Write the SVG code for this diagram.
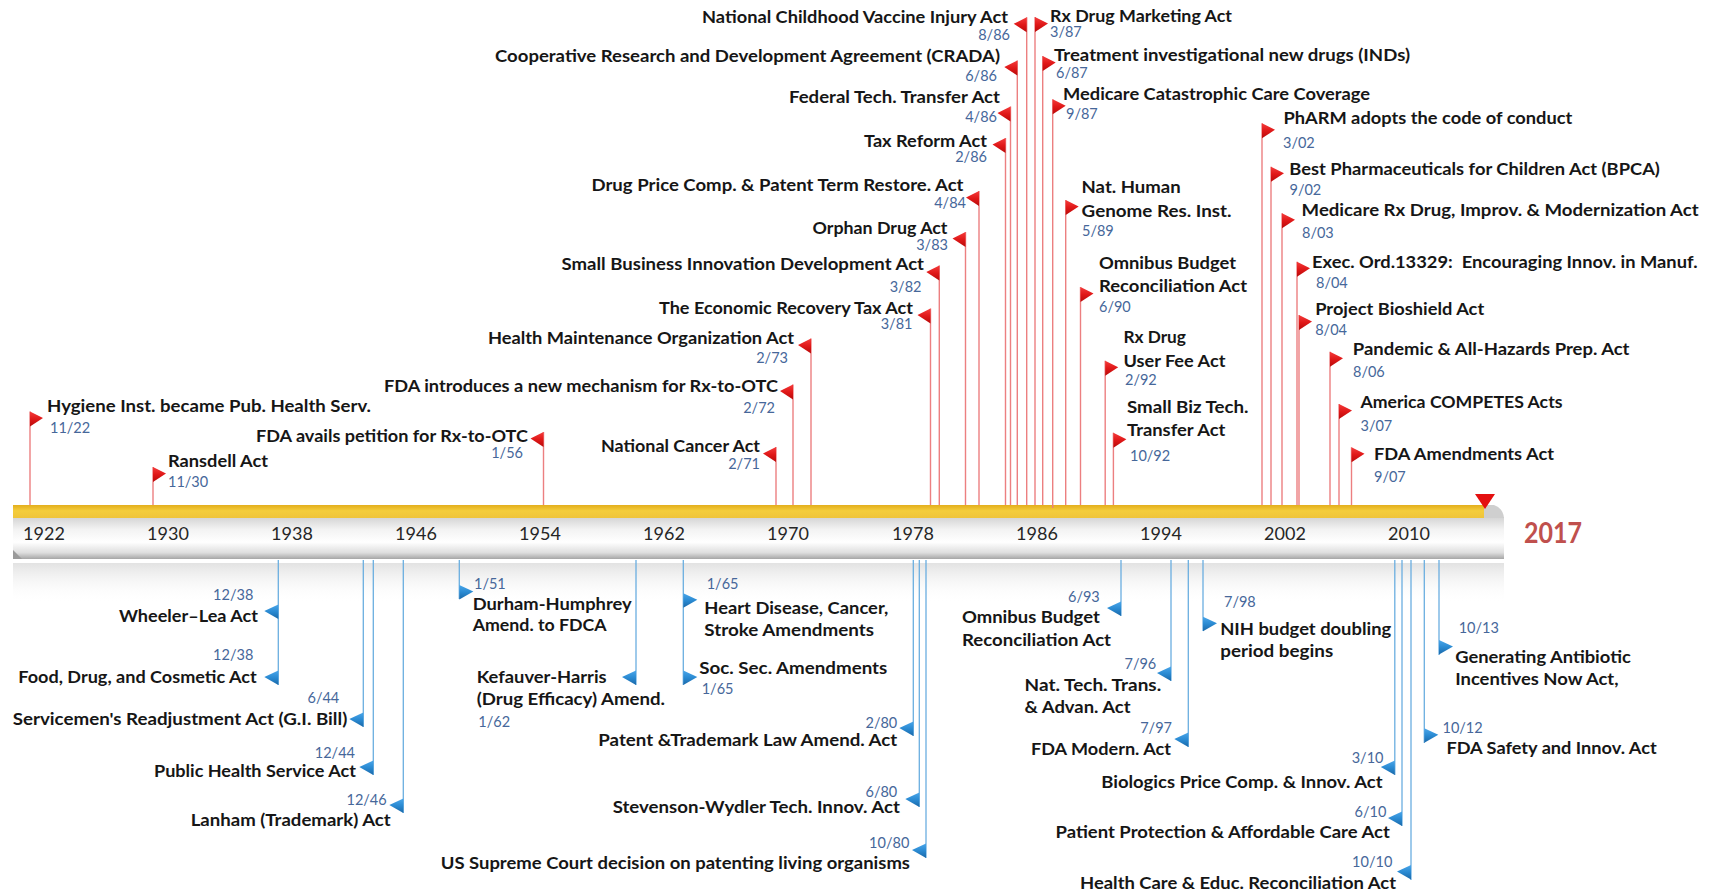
<svg xmlns="http://www.w3.org/2000/svg" xmlns:xlink="http://www.w3.org/1999/xlink" width="1711" height="893" viewBox="0 0 1711 893">
<defs>
<style>
.l{font-family:Lato,"Liberation Sans",sans-serif;font-weight:700;font-size:17px;fill:#161616}
.d{font-family:Lato,"Liberation Sans",sans-serif;font-weight:400;font-size:14.5px;fill:#46679a}
.e{text-anchor:end}
.y{font-family:Lato,"Liberation Sans",sans-serif;font-weight:400;font-size:18px;fill:#262626;text-anchor:middle}
.pr{stroke:#ec7f80;stroke-width:1.4;fill:none}
.pb{stroke:#6aaee0;stroke-width:1.3;fill:none}
</style>
<linearGradient id="gr" x1="0" y1="0" x2="0" y2="1"><stop offset="0" stop-color="#f43c3c"/><stop offset="0.5" stop-color="#e01818"/><stop offset="1" stop-color="#b80a0a"/></linearGradient>
<linearGradient id="gb" x1="0" y1="0" x2="0" y2="1"><stop offset="0" stop-color="#4aa6ea"/><stop offset="0.5" stop-color="#2a8ad2"/><stop offset="1" stop-color="#1a68a8"/></linearGradient>
<linearGradient id="gy" x1="0" y1="0" x2="0" y2="1"><stop offset="0" stop-color="#e3ae1c"/><stop offset="0.45" stop-color="#f4cd3c"/><stop offset="1" stop-color="#efc43a"/></linearGradient>
<linearGradient id="gg" x1="0" y1="0" x2="0" y2="1"><stop offset="0" stop-color="#d4d4d4"/><stop offset="0.3" stop-color="#f3f3f3"/><stop offset="0.6" stop-color="#ffffff"/><stop offset="0.85" stop-color="#dedede"/><stop offset="1" stop-color="#a6a6a6"/></linearGradient>
<linearGradient id="gf" x1="0" y1="0" x2="0" y2="1"><stop offset="0" stop-color="#e2e2e2"/><stop offset="1" stop-color="#ffffff" stop-opacity="0"/></linearGradient>
<path id="fR" d="M0,0 L13,6.5 L0,15 Z" fill="url(#gr)"/>
<path id="fL" d="M0,0 L-13,6.5 L0,15 Z" fill="url(#gr)"/>
<path id="bR" d="M0,0 L14,6.5 L0,14.5 Z" fill="url(#gb)"/>
<path id="bL" d="M0,0 L-14,6.5 L0,14.5 Z" fill="url(#gb)"/>
</defs>
<rect width="1711" height="893" fill="#ffffff"/>

<g id="timeline-bar">
<rect x="13" y="563" width="1491" height="40" fill="url(#gf)"/>
<rect x="13" y="517" width="1491" height="42" fill="url(#gg)"/>
<rect x="13" y="505" width="1471" height="13" fill="url(#gy)"/>
<path d="M1484,505 L1494,505 Q1503,508 1504,518 L1484,518 Z" fill="#cfcfcf"/>
<path d="M13,550 L22,559 L13,559 Z" fill="#9a9a9a"/>
<path d="M1475,494 L1495,494 L1485,509 Z" fill="#e41010"/>
<text class="y" x="44" y="540">1922</text>
<text class="y" x="168" y="540">1930</text>
<text class="y" x="292" y="540">1938</text>
<text class="y" x="416" y="540">1946</text>
<text class="y" x="540" y="540">1954</text>
<text class="y" x="664" y="540">1962</text>
<text class="y" x="788" y="540">1970</text>
<text class="y" x="913" y="540">1978</text>
<text class="y" x="1037" y="540">1986</text>
<text class="y" x="1161" y="540">1994</text>
<text class="y" x="1285" y="540">2002</text>
<text class="y" x="1409" y="540">2010</text>
<text x="1524" y="543" textLength="58" lengthAdjust="spacingAndGlyphs" style="font-family:Lato,'Liberation Sans',sans-serif;font-weight:700;font-size:28px;fill:#c0504d">2017</text>
</g>

<g id="connectors">
<line class="pr" x1="30" y1="411.5" x2="30" y2="505"/>
<line class="pr" x1="153" y1="467" x2="153" y2="505"/>
<line class="pr" x1="543.5" y1="432" x2="543.5" y2="505"/>
<line class="pr" x1="776" y1="447" x2="776" y2="505"/>
<line class="pr" x1="793" y1="384.5" x2="793" y2="505"/>
<line class="pr" x1="811" y1="338.5" x2="811" y2="505"/>
<line class="pr" x1="930.5" y1="308.5" x2="930.5" y2="505"/>
<line class="pr" x1="939.3" y1="265.5" x2="939.3" y2="505"/>
<line class="pr" x1="965.5" y1="232" x2="965.5" y2="505"/>
<line class="pr" x1="979" y1="191" x2="979" y2="505"/>
<line class="pr" x1="1005.5" y1="138" x2="1005.5" y2="505"/>
<line class="pr" x1="1010.5" y1="106.5" x2="1010.5" y2="505"/>
<line class="pr" x1="1017.3" y1="60.5" x2="1017.3" y2="505"/>
<line class="pr" x1="1026.7" y1="17.3" x2="1026.7" y2="505"/>
<line class="pr" x1="1035" y1="17" x2="1035" y2="505"/>
<line class="pr" x1="1042.7" y1="56" x2="1042.7" y2="505"/>
<line class="pr" x1="1052.7" y1="99.3" x2="1052.7" y2="508"/>
<line class="pr" x1="1065.7" y1="200" x2="1065.7" y2="505"/>
<line class="pr" x1="1080.5" y1="287" x2="1080.5" y2="505"/>
<line class="pr" x1="1105.2" y1="360.7" x2="1105.2" y2="505"/>
<line class="pr" x1="1113.4" y1="432.7" x2="1113.4" y2="505"/>
<line class="pr" x1="1262" y1="123.3" x2="1262" y2="505"/>
<line class="pr" x1="1271" y1="166.7" x2="1271" y2="505"/>
<line class="pr" x1="1282" y1="213.3" x2="1282" y2="505"/>
<line class="pr" x1="1297" y1="261.7" x2="1297" y2="505"/>
<line class="pr" x1="1299" y1="315" x2="1299" y2="505"/>
<line class="pr" x1="1330" y1="351.7" x2="1330" y2="505"/>
<line class="pr" x1="1339" y1="404" x2="1339" y2="505"/>
<line class="pr" x1="1351.5" y1="447.3" x2="1351.5" y2="505"/>
<line class="pb" x1="278.3" y1="560" x2="278.3" y2="685"/>
<line class="pb" x1="363.3" y1="560" x2="363.3" y2="727"/>
<line class="pb" x1="373.3" y1="560" x2="373.3" y2="775"/>
<line class="pb" x1="403.3" y1="560" x2="403.3" y2="813"/>
<line class="pb" x1="459.3" y1="560" x2="459.3" y2="599"/>
<line class="pb" x1="636" y1="560" x2="636" y2="685"/>
<line class="pb" x1="683.3" y1="560" x2="683.3" y2="685"/>
<line class="pb" x1="913.3" y1="560" x2="913.3" y2="736"/>
<line class="pb" x1="919.3" y1="560" x2="919.3" y2="807"/>
<line class="pb" x1="926" y1="560" x2="926" y2="858"/>
<line class="pb" x1="1121" y1="560" x2="1121" y2="616"/>
<line class="pb" x1="1171" y1="560" x2="1171" y2="681"/>
<line class="pb" x1="1188.3" y1="560" x2="1188.3" y2="747"/>
<line class="pb" x1="1203" y1="560" x2="1203" y2="631"/>
<line class="pb" x1="1394.8" y1="560" x2="1394.8" y2="775"/>
<line class="pb" x1="1402" y1="560" x2="1402" y2="826"/>
<line class="pb" x1="1411" y1="560" x2="1411" y2="880"/>
<line class="pb" x1="1424.3" y1="560" x2="1424.3" y2="743"/>
<line class="pb" x1="1439" y1="560" x2="1439" y2="655"/>
</g>

<g id="t01"><use xlink:href="#fR" x="30" y="411.5"/><text class="l" x="47" y="412" textLength="324" lengthAdjust="spacingAndGlyphs">Hygiene Inst. became Pub. Health Serv.</text><text class="d" x="50" y="433">11/22</text></g>
<g id="t02"><use xlink:href="#fR" x="153" y="467"/><text class="l" x="168" y="466.5" textLength="100" lengthAdjust="spacingAndGlyphs">Ransdell Act</text><text class="d" x="168" y="487">11/30</text></g>
<g id="t03"><use xlink:href="#fL" x="543.5" y="432"/><text class="l" x="256" y="442" textLength="272" lengthAdjust="spacingAndGlyphs">FDA avails petition for Rx-to-OTC</text><text class="d e" x="523" y="458">1/56</text></g>
<g id="t04"><use xlink:href="#fL" x="776" y="447"/><text class="l" x="601" y="452" textLength="159" lengthAdjust="spacingAndGlyphs">National Cancer Act</text><text class="d e" x="760" y="469">2/71</text></g>
<g id="t05"><use xlink:href="#fL" x="793" y="384.5"/><text class="l" x="384" y="392" textLength="394" lengthAdjust="spacingAndGlyphs">FDA introduces a new mechanism for Rx-to-OTC</text><text class="d e" x="775" y="413">2/72</text></g>
<g id="t06"><use xlink:href="#fL" x="811" y="338.5"/><text class="l" x="488" y="343.5" textLength="306" lengthAdjust="spacingAndGlyphs">Health Maintenance Organization Act</text><text class="d e" x="788" y="362.5">2/73</text></g>
<g id="t07"><use xlink:href="#fL" x="930.5" y="308.5"/><text class="l" x="659" y="314" textLength="254" lengthAdjust="spacingAndGlyphs">The Economic Recovery Tax Act</text><text class="d e" x="912.5" y="329">3/81</text></g>
<g id="t08"><use xlink:href="#fL" x="939.3" y="265.5"/><text class="l" x="561.5" y="270" textLength="362.5" lengthAdjust="spacingAndGlyphs">Small Business Innovation Development Act</text><text class="d e" x="921.5" y="291.5">3/82</text></g>
<g id="t09"><use xlink:href="#fL" x="965.5" y="232"/><text class="l" x="812.5" y="234" textLength="135" lengthAdjust="spacingAndGlyphs">Orphan Drug Act</text><text class="d e" x="948" y="249.5">3/83</text></g>
<g id="t10"><use xlink:href="#fL" x="979" y="191"/><text class="l" x="591.5" y="191" textLength="372" lengthAdjust="spacingAndGlyphs">Drug Price Comp. &amp; Patent Term Restore. Act</text><text class="d e" x="966" y="208">4/84</text></g>
<g id="t11"><use xlink:href="#fL" x="1005.5" y="138"/><text class="l" x="864" y="146.5" textLength="123" lengthAdjust="spacingAndGlyphs">Tax Reform Act</text><text class="d e" x="987" y="161.5">2/86</text></g>
<g id="t12"><use xlink:href="#fL" x="1010.5" y="106.5"/><text class="l" x="789" y="103.3" textLength="211" lengthAdjust="spacingAndGlyphs">Federal Tech. Transfer Act</text><text class="d e" x="997" y="121.5">4/86</text></g>
<g id="t13"><use xlink:href="#fL" x="1017.3" y="60.5"/><text class="l" x="495" y="62" textLength="505" lengthAdjust="spacingAndGlyphs">Cooperative Research and Development Agreement (CRADA)</text><text class="d e" x="997" y="81">6/86</text></g>
<g id="t14"><use xlink:href="#fL" x="1026.7" y="17.3"/><text class="l" x="702" y="22.5" textLength="306" lengthAdjust="spacingAndGlyphs">National Childhood Vaccine Injury Act</text><text class="d e" x="1010" y="40">8/86</text></g>
<g id="t15"><use xlink:href="#fR" x="1035" y="17"/><text class="l" x="1050" y="21.7" textLength="182" lengthAdjust="spacingAndGlyphs">Rx Drug Marketing Act</text><text class="d" x="1050" y="37">3/87</text></g>
<g id="t16"><use xlink:href="#fR" x="1042.7" y="56"/><text class="l" x="1054" y="61" textLength="356" lengthAdjust="spacingAndGlyphs">Treatment investigational new drugs (INDs)</text><text class="d" x="1056" y="77.5">6/87</text></g>
<g id="t17"><use xlink:href="#fR" x="1052.7" y="99.3"/><text class="l" x="1063" y="100" textLength="307" lengthAdjust="spacingAndGlyphs">Medicare Catastrophic Care Coverage</text><text class="d" x="1066" y="119.3">9/87</text></g>
<g id="t18"><use xlink:href="#fR" x="1065.7" y="200"/><text class="l" x="1081.6" y="193.3" textLength="99" lengthAdjust="spacingAndGlyphs">Nat. Human</text><text class="l" x="1081.6" y="217" textLength="150" lengthAdjust="spacingAndGlyphs">Genome Res. Inst.</text><text class="d" x="1082" y="236">5/89</text></g>
<g id="t19"><use xlink:href="#fR" x="1080.5" y="287"/><text class="l" x="1099" y="269.3" textLength="137" lengthAdjust="spacingAndGlyphs">Omnibus Budget</text><text class="l" x="1099" y="291.7" textLength="148" lengthAdjust="spacingAndGlyphs">Reconciliation Act</text><text class="d" x="1099" y="311.7">6/90</text></g>
<g id="t20"><use xlink:href="#fR" x="1105.2" y="360.7"/><text class="l" x="1123.4" y="343.3" textLength="62.6" lengthAdjust="spacingAndGlyphs">Rx Drug</text><text class="l" x="1123.4" y="366.7" textLength="102" lengthAdjust="spacingAndGlyphs">User Fee Act</text><text class="d" x="1125" y="385">2/92</text></g>
<g id="t21"><use xlink:href="#fR" x="1113.4" y="432.7"/><text class="l" x="1127" y="413.3" textLength="121.5" lengthAdjust="spacingAndGlyphs">Small Biz Tech.</text><text class="l" x="1127" y="436" textLength="98.4" lengthAdjust="spacingAndGlyphs">Transfer Act</text><text class="d" x="1130" y="460.7">10/92</text></g>
<g id="t22"><use xlink:href="#fR" x="1262" y="123.3"/><text class="l" x="1283.4" y="124" textLength="289" lengthAdjust="spacingAndGlyphs">PhARM adopts the code of conduct</text><text class="d" x="1283" y="148.3">3/02</text></g>
<g id="t23"><use xlink:href="#fR" x="1271" y="166.7"/><text class="l" x="1289.3" y="174.5" textLength="370.6" lengthAdjust="spacingAndGlyphs">Best Pharmaceuticals for Children Act (BPCA)</text><text class="d" x="1289.5" y="195">9/02</text></g>
<g id="t24"><use xlink:href="#fR" x="1282" y="213.3"/><text class="l" x="1301.6" y="216" textLength="397" lengthAdjust="spacingAndGlyphs">Medicare Rx Drug, Improv. &amp; Modernization Act</text><text class="d" x="1302" y="238.3">8/03</text></g>
<g id="t25"><use xlink:href="#fR" x="1297" y="261.7"/><text class="l" x="1312" y="268.3" textLength="385.5" lengthAdjust="spacingAndGlyphs">Exec. Ord.13329:&#160; Encouraging Innov. in Manuf.</text><text class="d" x="1316" y="288.3">8/04</text></g>
<g id="t26"><use xlink:href="#fR" x="1299" y="315"/><text class="l" x="1315.2" y="315" textLength="169" lengthAdjust="spacingAndGlyphs">Project Bioshield Act</text><text class="d" x="1315.2" y="335">8/04</text></g>
<g id="t27"><use xlink:href="#fR" x="1330" y="351.7"/><text class="l" x="1352.8" y="355" textLength="276.7" lengthAdjust="spacingAndGlyphs">Pandemic &amp; All-Hazards Prep. Act</text><text class="d" x="1353" y="376.7">8/06</text></g>
<g id="t28"><use xlink:href="#fR" x="1339" y="404"/><text class="l" x="1360.5" y="408.3" textLength="202" lengthAdjust="spacingAndGlyphs">America COMPETES Acts</text><text class="d" x="1360.5" y="430.7">3/07</text></g>
<g id="t29"><use xlink:href="#fR" x="1351.5" y="447.3"/><text class="l" x="1374" y="460" textLength="180" lengthAdjust="spacingAndGlyphs">FDA Amendments Act</text><text class="d" x="1374" y="481.7">9/07</text></g>

<g id="b01"><use xlink:href="#bL" x="278.3" y="604.5"/><text class="d e" x="253.3" y="600">12/38</text><text class="l" x="119" y="621.7" textLength="139" lengthAdjust="spacingAndGlyphs">Wheeler–Lea Act</text></g>
<g id="b02"><use xlink:href="#bL" x="278.3" y="670.5"/><text class="d e" x="253.3" y="660">12/38</text><text class="l" x="18.3" y="682.7" textLength="238.4" lengthAdjust="spacingAndGlyphs">Food, Drug, and Cosmetic Act</text></g>
<g id="b03"><use xlink:href="#bL" x="363.3" y="712.5"/><text class="d e" x="339.3" y="703.3">6/44</text><text class="l" x="12.7" y="725" textLength="334.6" lengthAdjust="spacingAndGlyphs">Servicemen's Readjustment Act (G.I. Bill)</text></g>
<g id="b04"><use xlink:href="#bL" x="373.3" y="760.5"/><text class="d e" x="355" y="758.3">12/44</text><text class="l" x="154" y="776.7" textLength="202" lengthAdjust="spacingAndGlyphs">Public Health Service Act</text></g>
<g id="b05"><use xlink:href="#bL" x="403.3" y="798.5"/><text class="d e" x="386.7" y="805">12/46</text><text class="l" x="190.7" y="826" textLength="200" lengthAdjust="spacingAndGlyphs">Lanham (Trademark) Act</text></g>
<g id="b06"><use xlink:href="#bR" x="459.3" y="585"/><text class="d" x="474" y="589.3">1/51</text><text class="l" x="472.7" y="610" textLength="159" lengthAdjust="spacingAndGlyphs">Durham-Humphrey</text><text class="l" x="472.7" y="631" textLength="134" lengthAdjust="spacingAndGlyphs">Amend. to FDCA</text></g>
<g id="b07"><use xlink:href="#bL" x="636" y="670.5"/><text class="l" x="476.7" y="682.7" textLength="130" lengthAdjust="spacingAndGlyphs">Kefauver-Harris</text><text class="l" x="476.7" y="705" textLength="188.3" lengthAdjust="spacingAndGlyphs">(Drug Efficacy) Amend.</text><text class="d" x="478.3" y="726.7">1/62</text></g>
<g id="b08"><use xlink:href="#bR" x="683.3" y="593.3"/><text class="d" x="706.7" y="589.3">1/65</text><text class="l" x="704.3" y="614" textLength="184" lengthAdjust="spacingAndGlyphs">Heart Disease, Cancer,</text><text class="l" x="704.3" y="636" textLength="169.7" lengthAdjust="spacingAndGlyphs">Stroke Amendments</text></g>
<g id="b09"><use xlink:href="#bR" x="683.3" y="670.5"/><text class="l" x="699.3" y="674" textLength="188" lengthAdjust="spacingAndGlyphs">Soc. Sec. Amendments</text><text class="d" x="701.7" y="694">1/65</text></g>
<g id="b10"><use xlink:href="#bL" x="913.3" y="721.5"/><text class="d e" x="897.3" y="728.3">2/80</text><text class="l" x="598.3" y="745.5" textLength="299" lengthAdjust="spacingAndGlyphs">Patent &amp;Trademark Law Amend. Act</text></g>
<g id="b11"><use xlink:href="#bL" x="919.3" y="792.5"/><text class="d e" x="897.3" y="797.3">6/80</text><text class="l" x="612.7" y="812.5" textLength="287.3" lengthAdjust="spacingAndGlyphs">Stevenson-Wydler Tech. Innov. Act</text></g>
<g id="b12"><use xlink:href="#bL" x="926" y="843.5"/><text class="d e" x="909.3" y="848.3">10/80</text><text class="l" x="440.7" y="869" textLength="469.3" lengthAdjust="spacingAndGlyphs">US Supreme Court decision on patenting living organisms</text></g>
<g id="b13"><use xlink:href="#bL" x="1121" y="601.5"/><text class="d e" x="1099.8" y="601.7">6/93</text><text class="l" x="962" y="623.3" textLength="137.8" lengthAdjust="spacingAndGlyphs">Omnibus Budget</text><text class="l" x="962" y="646" textLength="149" lengthAdjust="spacingAndGlyphs">Reconciliation Act</text></g>
<g id="b14"><use xlink:href="#bL" x="1171" y="666.5"/><text class="d e" x="1156.3" y="669.3">7/96</text><text class="l" x="1024.6" y="690.7" textLength="136.6" lengthAdjust="spacingAndGlyphs">Nat. Tech. Trans.</text><text class="l" x="1024.6" y="713.3" textLength="106" lengthAdjust="spacingAndGlyphs">&amp; Advan. Act</text></g>
<g id="b15"><use xlink:href="#bL" x="1188.3" y="732.5"/><text class="d e" x="1172" y="733.3">7/97</text><text class="l" x="1031" y="755" textLength="140" lengthAdjust="spacingAndGlyphs">FDA Modern. Act</text></g>
<g id="b16"><use xlink:href="#bR" x="1203" y="616.7"/><text class="d" x="1224" y="606.7">7/98</text><text class="l" x="1220.2" y="635" textLength="171" lengthAdjust="spacingAndGlyphs">NIH budget doubling</text><text class="l" x="1220.2" y="656.7" textLength="113" lengthAdjust="spacingAndGlyphs">period begins</text></g>
<g id="b17"><use xlink:href="#bL" x="1394.8" y="760.5"/><text class="d e" x="1383.5" y="763.3">3/10</text><text class="l" x="1101.3" y="788.3" textLength="281.2" lengthAdjust="spacingAndGlyphs">Biologics Price Comp. &amp; Innov. Act</text></g>
<g id="b18"><use xlink:href="#bL" x="1402" y="811.5"/><text class="d e" x="1386.4" y="816.7">6/10</text><text class="l" x="1055.5" y="838.3" textLength="334.3" lengthAdjust="spacingAndGlyphs">Patient Protection &amp; Affordable Care Act</text></g>
<g id="b19"><use xlink:href="#bL" x="1411" y="865"/><text class="d e" x="1392.3" y="867.3">10/10</text><text class="l" x="1080" y="888.5" textLength="316" lengthAdjust="spacingAndGlyphs">Health Care &amp; Educ. Reconciliation Act</text></g>
<g id="b20"><use xlink:href="#bR" x="1424.3" y="728.3"/><text class="d" x="1442.5" y="732.7">10/12</text><text class="l" x="1446.4" y="754" textLength="210.4" lengthAdjust="spacingAndGlyphs">FDA Safety and Innov. Act</text></g>
<g id="b21"><use xlink:href="#bR" x="1439" y="640"/><text class="d" x="1458.7" y="633.3">10/13</text><text class="l" x="1455.2" y="662.7" textLength="175.6" lengthAdjust="spacingAndGlyphs">Generating Antibiotic</text><text class="l" x="1455.2" y="685" textLength="163.3" lengthAdjust="spacingAndGlyphs">Incentives Now Act,</text></g>
</svg>
